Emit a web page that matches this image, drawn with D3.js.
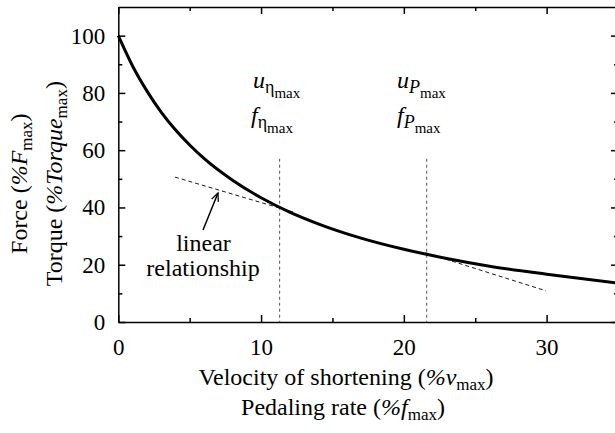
<!DOCTYPE html>
<html>
<head>
<meta charset="utf-8">
<script src="https://cdn.jsdelivr.net/npm/d3@7"></script>
<style>
  body { margin: 0; background: #fff; }
</style>
</head>
<body>
<div id="chart"></div>
<script>
// force-velocity curve
const velocity = [0, 1, 2, 3, 4, 5, 6, 8, 10, 12, 14, 17, 20, 23, 26, 30, 35];
const force = [100, 89.4, 80.7, 73.3, 67.1, 61.8, 57.1, 49.5, 43.4, 38.4, 34.3, 29.3, 25.4, 22.2, 19.5, 16.7, 13.6];

// dashed tangent lines (start/end)
const tangentX = [[3.97, 12.25], [21.5, 29.95]];
const tangentY = [[50.6, 38.4], [24.2, 10.9]];

// vertical markers: optimum efficiency and max power
const markerX = [11.3, 21.6];
const markerTop = 57;

const xTicks = [0, 10, 20, 30];
const xMinor = [5, 15, 25, 35];
const yTicks = [0, 20, 40, 60, 80, 100];
const yMinor = [10, 30, 50, 70, 90];

const width = 615, height = 433;
const margin = { left: 118.3, top: 7, bottom: 111 };
const serif = '"Liberation Serif"';

const x = d3.scaleLinear().domain([0, 35]).range([margin.left, 618]);
const y = d3.scaleLinear().domain([0, 110]).range([height - margin.bottom, margin.top]);

const svg = d3.select('#chart').append('svg')
  .attr('width', width)
  .attr('height', height);

// text helper, font set inline on every text
const addText = (px, py, size) => svg.append('text')
  .attr('x', px).attr('y', py)
  .attr('font-size', size)
  .attr('fill', '#000')
  .style('font-family', serif);

// axes, ticks pointing inward on all four sides
const addAxis = (axis, transform, minor) => {
  const g = svg.append('g')
    .attr('transform', transform)
    .call(axis);
  g.attr('font-family', null).attr('font-size', null);
  g.selectAll('path, line').attr('stroke', '#000').attr('stroke-width', 1.5);
  g.selectAll('text')
    .attr('font-size', 23)
    .attr('fill', '#000')
    .style('font-family', serif);
  if (minor) g.select('.domain').remove();
  return g;
};

addAxis(d3.axisBottom(x).tickValues(xTicks).tickSizeInner(-7).tickSizeOuter(0).tickPadding(17), `translate(0,${y(0)})`);
addAxis(d3.axisBottom(x).tickValues(xMinor).tickSizeInner(-4).tickSizeOuter(0).tickFormat(''), `translate(0,${y(0)})`, true);
addAxis(d3.axisTop(x).tickValues(xTicks).tickSizeInner(-7).tickSizeOuter(0).tickFormat(''), `translate(0,${y(110)})`);
addAxis(d3.axisTop(x).tickValues(xMinor).tickSizeInner(-4).tickSizeOuter(0).tickFormat(''), `translate(0,${y(110)})`, true);
addAxis(d3.axisLeft(y).tickValues(yTicks).tickSizeInner(-7).tickSizeOuter(0).tickPadding(13), `translate(${x(0)},0)`);
addAxis(d3.axisLeft(y).tickValues(yMinor).tickSizeInner(-4).tickSizeOuter(0).tickFormat(''), `translate(${x(0)},0)`, true);
addAxis(d3.axisRight(y).tickValues(yTicks).tickSizeInner(-7).tickSizeOuter(0).tickFormat(''), `translate(${x(35)},0)`);
addAxis(d3.axisRight(y).tickValues(yMinor).tickSizeInner(-4).tickSizeOuter(0).tickFormat(''), `translate(${x(35)},0)`, true);

// vertical dashed markers
svg.selectAll('.marker')
  .data(markerX)
  .enter().append('line')
    .attr('class', 'marker')
    .attr('x1', (d) => x(d)).attr('x2', (d) => x(d))
    .attr('y1', y(markerTop)).attr('y2', y(0))
    .attr('stroke', '#555')
    .attr('stroke-width', 1)
    .attr('stroke-dasharray', '3,3');

// tangent lines
svg.selectAll('.tangent')
  .data(tangentX)
  .enter().append('line')
    .attr('class', 'tangent')
    .attr('x1', (d) => x(d[0])).attr('x2', (d) => x(d[1]))
    .attr('y1', (d, i) => y(tangentY[i][0])).attr('y2', (d, i) => y(tangentY[i][1]))
    .attr('stroke', '#000')
    .attr('stroke-width', 0.9)
    .attr('stroke-dasharray', '4,3');

// main curve
const line = d3.line()
  .x((d) => x(d[0]))
  .y((d) => y(d[1]))
  .curve(d3.curveMonotoneX);

svg.append('path')
  .datum(velocity.map((v, i) => [v, force[i]]))
  .attr('d', line)
  .attr('fill', 'none')
  .attr('stroke', '#000')
  .attr('stroke-width', 3);

// annotation labels with nested subscripts
const subLabel = (px, py, base, sub, italicSub) => {
  const t = addText(px, py, 24);
  t.append('tspan').attr('font-style', 'italic').text(base);
  t.append('tspan').attr('font-size', 18).attr('dy', 5)
    .attr('font-style', italicSub ? 'italic' : 'normal').text(sub);
  t.append('tspan').attr('font-size', 15).attr('dy', 5).text('max');
};
subLabel(253, 88, 'u', 'η', false);
subLabel(251, 123, 'f', 'η', false);
subLabel(397, 88, 'u', 'P', true);
subLabel(397, 123, 'f', 'P', true);

// arrow + linear relationship label
svg.append('defs').append('marker')
  .attr('id', 'arrowhead')
  .attr('viewBox', '0 0 10 10')
  .attr('refX', 9).attr('refY', 5)
  .attr('markerWidth', 9).attr('markerHeight', 9)
  .attr('markerUnits', 'userSpaceOnUse')
  .attr('orient', 'auto')
  .append('path')
    .attr('d', 'M0,1 L9,5 L0,9')
    .attr('fill', 'none')
    .attr('stroke', '#000')
    .attr('stroke-width', 1.4);

svg.append('line')
  .attr('x1', 203).attr('y1', 230)
  .attr('x2', 218).attr('y2', 193)
  .attr('stroke', '#000')
  .attr('stroke-width', 1.5)
  .attr('marker-end', 'url(#arrowhead)');

addText(203.5, 251, 24).attr('text-anchor', 'middle').text('linear');
addText(203, 276, 24).attr('text-anchor', 'middle').text('relationship');

// axis titles with subscripted "max"
const titled = (el, plain, ital) => {
  el.attr('text-anchor', 'middle');
  el.append('tspan').text(plain + ' (');
  el.append('tspan').attr('font-style', 'italic').text(ital);
  el.append('tspan').attr('font-size', 17).attr('dy', 5).text('max');
  el.append('tspan').attr('dy', -5).text(')');
};

titled(addText(346, 385, 24), 'Velocity of shortening', '%v');
titled(addText(343, 415, 24), 'Pedaling rate', '%f');
titled(addText(0, 0, 24).attr('transform', `translate(27,${y(48.3)}) rotate(-90)`), 'Force', '%F');
titled(addText(0, 0, 24).attr('transform', `translate(62,${y(48.3)}) rotate(-90)`), 'Torque', '%Torque');
</script>
</body>
</html>
